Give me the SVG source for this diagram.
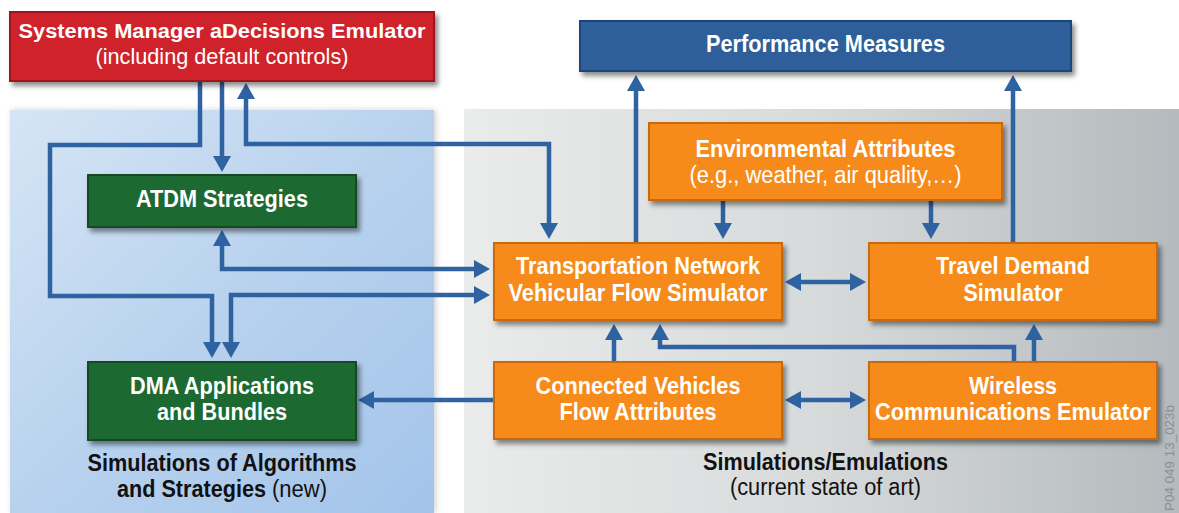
<svg xmlns="http://www.w3.org/2000/svg" width="1179" height="513" viewBox="0 0 1179 513">
<defs>
<linearGradient id="gBlue" x1="0" y1="0" x2="1" y2="1">
<stop offset="0" stop-color="#d6e5f5"/>
<stop offset="0.5" stop-color="#b8d2ee"/>
<stop offset="1" stop-color="#a3c4ea"/>
</linearGradient>
<linearGradient id="gGrey" x1="0" y1="0" x2="1" y2="0">
<stop offset="0" stop-color="#eaebeb"/>
<stop offset="0.5" stop-color="#d7dadb"/>
<stop offset="1" stop-color="#b4babd"/>
</linearGradient>
<filter id="sh" x="-10%" y="-10%" width="130%" height="140%">
<feDropShadow dx="3" dy="4" stdDeviation="2.5" flood-color="#000" flood-opacity="0.45"/>
</filter>
<filter id="psh" x="-5%" y="-5%" width="110%" height="110%">
<feDropShadow dx="2" dy="0" stdDeviation="3" flood-color="#000" flood-opacity="0.18"/>
</filter>
<marker id="ah" viewBox="0 0 16 18" markerWidth="16" markerHeight="18" refX="2" refY="9" orient="auto-start-reverse" markerUnits="userSpaceOnUse">
<path d="M0,0 L16,9 L0,18 z" fill="#2e62a0"/>
</marker>
<style>
.t{font-family:"Liberation Sans",Arial,sans-serif;font-size:23px;fill:#fff;text-anchor:middle}
.s{text-anchor:start}
.b{font-weight:bold}
.k{fill:#111}
.c{fill:none;stroke:#2e62a0;stroke-width:4.5;stroke-linejoin:miter}
.red{fill:#d0202a;stroke:#9e141c;stroke-width:2}
.blu{fill:#2d5e9b;stroke:#1f4478;stroke-width:2}
.grn{fill:#1e6b32;stroke:#124a20;stroke-width:2}
.org{fill:#f68b1f;stroke:#c8690e;stroke-width:2}
</style>
</defs>
<rect width="1179" height="513" fill="#fff"/>
<g id="panels">
<rect x="10" y="110" width="424" height="403" fill="url(#gBlue)" filter="url(#psh)"/>
<rect x="464" y="109" width="715" height="404" fill="url(#gGrey)"/>
</g>
<g id="connectors">
<path class="c" d="M222,82 V158" marker-end="url(#ah)"/>
<path class="c" d="M200,82 V145 H50 V296 H212 V344" marker-end="url(#ah)"/>
<path class="c" d="M222,244 V269 H476" marker-start="url(#ah)" marker-end="url(#ah)"/>
<path class="c" d="M476,295 H231 V344" marker-start="url(#ah)" marker-end="url(#ah)"/>
<path class="c" d="M246,97 V144 H549 V225" marker-start="url(#ah)" marker-end="url(#ah)"/>
<path class="c" d="M636,243 V89" marker-end="url(#ah)"/>
<path class="c" d="M723,201 V225" marker-end="url(#ah)"/>
<path class="c" d="M931,201 V225" marker-end="url(#ah)"/>
<path class="c" d="M1013,243 V89" marker-end="url(#ah)"/>
<path class="c" d="M799,282 H852" marker-start="url(#ah)" marker-end="url(#ah)"/>
<path class="c" d="M614,362 V338" marker-end="url(#ah)"/>
<path class="c" d="M1014,362 V347 H660 V338" marker-end="url(#ah)"/>
<path class="c" d="M1034,362 V338" marker-end="url(#ah)"/>
<path class="c" d="M799,400 H852" marker-start="url(#ah)" marker-end="url(#ah)"/>
<path class="c" d="M494,400 H372" marker-end="url(#ah)"/>
</g>
<g id="systems-manager">
<rect class="red" x="10" y="12" width="424" height="69" filter="url(#sh)"/>
<text class="t b" x="222" y="38" style="font-size:21px" textLength="407" lengthAdjust="spacingAndGlyphs">Systems Manager aDecisions Emulator</text>
<text class="t" x="222" y="64" style="font-size:22px" textLength="253" lengthAdjust="spacingAndGlyphs">(including default controls)</text>
</g>
<g id="performance-measures">
<rect class="blu" x="580" y="21" width="491" height="50" filter="url(#sh)"/>
<text class="t b" x="825.5" y="52" textLength="239" lengthAdjust="spacingAndGlyphs">Performance Measures</text>
</g>
<g id="environmental-attributes">
<rect class="org" x="649" y="123" width="353" height="77" filter="url(#sh)"/>
<text class="t b" x="825.5" y="157" textLength="260" lengthAdjust="spacingAndGlyphs">Environmental Attributes</text>
<text class="t" x="825.5" y="183" textLength="272" lengthAdjust="spacingAndGlyphs">(e.g., weather, air quality,…)</text>
</g>
<g id="atdm-strategies">
<rect class="grn" x="88" y="175" width="268" height="52" filter="url(#sh)"/>
<text class="t b" x="222" y="207" textLength="172" lengthAdjust="spacingAndGlyphs">ATDM Strategies</text>
</g>
<g id="dma-applications">
<rect class="grn" x="88" y="362" width="268" height="78" filter="url(#sh)"/>
<text class="t b" x="222" y="394" textLength="184" lengthAdjust="spacingAndGlyphs">DMA Applications</text>
<text class="t b" x="222" y="420" textLength="130" lengthAdjust="spacingAndGlyphs">and Bundles</text>
</g>
<g id="transportation-network">
<rect class="org" x="494" y="243" width="288" height="77" filter="url(#sh)"/>
<text class="t b" x="638" y="274" textLength="244" lengthAdjust="spacingAndGlyphs">Transportation Network</text>
<text class="t b" x="638" y="301" textLength="259" lengthAdjust="spacingAndGlyphs">Vehicular Flow Simulator</text>
</g>
<g id="travel-demand">
<rect class="org" x="869" y="243" width="288" height="77" filter="url(#sh)"/>
<text class="t b" x="1013" y="274" textLength="154" lengthAdjust="spacingAndGlyphs">Travel Demand</text>
<text class="t b" x="1013" y="301" textLength="99" lengthAdjust="spacingAndGlyphs">Simulator</text>
</g>
<g id="connected-vehicles">
<rect class="org" x="494" y="362" width="288" height="77" filter="url(#sh)"/>
<text class="t b" x="638" y="394" textLength="205" lengthAdjust="spacingAndGlyphs">Connected Vehicles</text>
<text class="t b" x="638" y="420" textLength="157" lengthAdjust="spacingAndGlyphs">Flow Attributes</text>
</g>
<g id="wireless-communications">
<rect class="org" x="869" y="362" width="288" height="77" filter="url(#sh)"/>
<text class="t b" x="1013" y="394" textLength="88" lengthAdjust="spacingAndGlyphs">Wireless</text>
<text class="t b" x="1013" y="420" textLength="276" lengthAdjust="spacingAndGlyphs">Communications Emulator</text>
</g>
<g id="labels">
<text class="t b k" x="222" y="471" textLength="269" lengthAdjust="spacingAndGlyphs">Simulations of Algorithms</text>
<text class="t s b k" x="117" y="497" textLength="149" lengthAdjust="spacingAndGlyphs">and Strategies</text>
<text class="t s k" x="272" y="497" textLength="55" lengthAdjust="spacingAndGlyphs">(new)</text>
<text class="t b k" x="825.5" y="470" textLength="245" lengthAdjust="spacingAndGlyphs">Simulations/Emulations</text>
<text class="t k" x="825.5" y="495" textLength="191" lengthAdjust="spacingAndGlyphs">(current state of art)</text>
<text x="1174" y="511" transform="rotate(-90 1174 511)" font-family="Liberation Sans, Arial, sans-serif" font-size="13" fill="#8a8f93" textLength="106" lengthAdjust="spacingAndGlyphs">P04 049 13_023b</text>
</g>
</svg>
